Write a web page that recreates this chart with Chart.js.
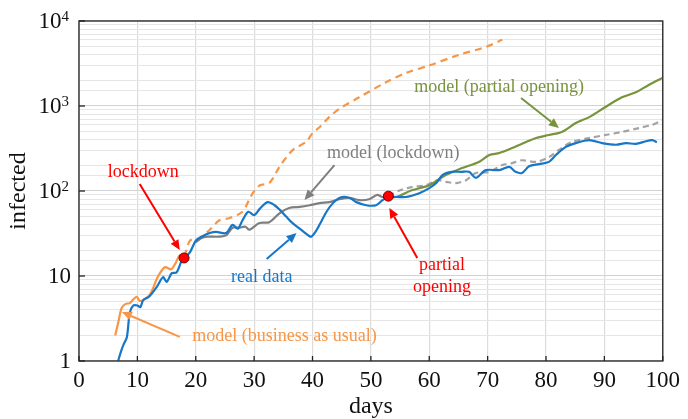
<!DOCTYPE html>
<html><head><meta charset="utf-8">
<script src="https://cdn.jsdelivr.net/npm/chart.js@4/dist/chart.umd.min.js"></script>
<style>html,body{margin:0;padding:0;background:#fff}</style>
</head><body>
<canvas id="c" width="688" height="419"></canvas>
<script>
// ---------- DATA ----------
const realDays   = [6.7,7.2,7.7,8.2,8.7,9.3,10.0,10.5,11.0,12.0,13.3,14.4,15.0,15.9,16.7,17.5,18.0,19.0,20.0,21.0,22.4,23.5,25.2,26.3,27.2,28.0,29.0,30.0,31.0,32.3,33.5,34.4,35.5,36.4,37.8,38.5,39.3,39.8,40.5,41.2,42.4,43.5,44.6,45.8,46.8,47.5,49.2,50.9,52.0,53.0,54.4,56.0,57.0,58.3,60.0,61.2,62.3,63.9,65.5,66.8,68.0,69.7,72.0,73.7,74.8,75.9,77.1,78.8,80.5,81.7,83.4,85.1,87.4,89.6,92.0,93.7,95.4,97.1,98.2,99.0];
const realValues = [1.0,1.3,1.6,1.9,3.7,4.5,4.5,4.3,5.2,5.7,7.4,9.7,8.5,10.8,11,14.6,16.3,19,26,29,32,33,32,40,36,45,57,52,62,74,68,60,50,43,36,33,30,29,33,40,57,72,83,85,80,74,68,68,78,85,85,85,88,94,108,124,155,168,168,168,143,176,176,192,168,163,195,207,220,265,330,366,396,366,350,366,358,385,396,376];

const usualDays   = [6.2,6.8,7.3,8.0,8.7,9.3,9.9,10.4,11.2,12.1,12.8,13.5,14.7,15.8,16.5,17.3,18.0,19.0,20.7,22.4,24.0,25.8,28.0,29.2,29.8,31.0,32.6,34.4,36.6,38.9,40.0,41.2,42.9,44.6,48.0,52.6,56.0,60.0,65.1,69.7,72.5];
const usualValues = [2.0,3.0,4.2,4.7,4.8,5.3,5.7,5.1,5.3,6.0,7.5,9.8,12.7,12,14,17.7,17,26,28,35,45,48,57,80,95,117,124,195,303,378,479,562,744,930,1265,1905,2450,3000,4000,4950,6000];

const lockdownDays   = [20.0,21.0,22.0,23.0,24.0,25.2,26.3,27.5,28.5,29.2,30.9,32.6,34.4,36.0,37.8,39.5,41.2,42.9,44.6,46.3,48.0,49.7,51.1,52.0,53.0,55.0,57.0,59.5,61.4,62.9,64.6,66.3,68.0,70.3,72.5,74.2,75.9,78.3,80.5,82.2,84.4,87.4,90.2,93.0,95.9,98.2,100];
const lockdownValues = [25,28,29,29,29,30,37,37,38,35,42,43,55,63,65,68,72,74,80,83,78,80,90,85,88,102,111,117,134,128,124,134,163,168,202,213,230,220,250,304,377,420,456,495,550,600,680];

const openingDays   = [53.0,54.3,57.0,60.0,62.9,65.6,68.5,70.3,72.0,74.2,76.6,78.3,80.5,82.7,85.1,87.4,90.2,93.0,95.4,97.6,100];
const openingValues = [87,85,102,117,155,186,220,265,280,320,377,420,456,495,630,740,975,1265,1450,1770,2150];

const eventDays   = [18, 53];
const eventValues = [16.3, 87];

const xTickValues = [0,10,20,30,40,50,60,70,80,90,100];
const yTickValues = [1,10,100,1000,10000];
const yTickBase   = ['1','10','10','10','10'];
const yTickExp    = ['','','2','3','4'];

// annotation anchors in data units (day, infected)
const labelTexts  = ['lockdown','model (lockdown)','real data','partial','opening','model (partial opening)','model (business as usual)'];
const labelDays   = [11.0, 53.85, 31.3, 62.2, 62.2, 71.97, 35.2];
const labelValues = [167, 280, 9.73, 13.5, 7.42, 1674, 1.97];
const arrowFromDays   = [10.4, 43.76, 32.14, 57.95, 75.73, 17.26];
const arrowFromValues = [121, 202, 15.8, 16.3, 1242, 1.92];
const arrowToDays     = [17.26, 38.63, 37.26, 53.16, 82.22, 7.35];
const arrowToValues   = [20.2, 78.4, 32, 63, 551, 3.77];

// ---------- STYLE ----------
const BLUE='#1677c9', ORANGE='#f79646', GREEN='#77933c', GRAY='#7f7f7f', DGRAY='#a3a3a3', RED='#ff0000';
const FONT='"Liberation Serif", "Times New Roman", serif';
const labelColors=[RED,GRAY,BLUE,RED,RED,GREEN,ORANGE];
const arrowColors=[RED,GRAY,BLUE,RED,GREEN,ORANGE];

const pts=(xs,ys)=>xs.map((x,i)=>({x:x,y:ys[i]}));

const decorPlugin={
  id:'decor',
  afterDatasetsDraw(chart){
    const {ctx,chartArea:a,scales:{x,y}}=chart;
    ctx.save();
    // frame
    ctx.strokeStyle='#3a3a3a'; ctx.lineWidth=1.5;
    ctx.strokeRect(a.left,a.top,a.right-a.left,a.bottom-a.top);
    // inward ticks
    ctx.strokeStyle='#222'; ctx.lineWidth=1.3;
    xTickValues.forEach(v=>{const px=x.getPixelForValue(v);ctx.beginPath();ctx.moveTo(px,a.bottom);ctx.lineTo(px,a.bottom-5);ctx.stroke();});
    yTickValues.forEach(v=>{const py=y.getPixelForValue(v);ctx.beginPath();ctx.moveTo(a.left,py);ctx.lineTo(a.left+6,py);ctx.stroke();});
    // y tick labels with superscripts
    ctx.fillStyle='#111'; ctx.textBaseline='middle'; ctx.textAlign='right';
    yTickValues.forEach((v,i)=>{
      const py=y.getPixelForValue(v);
      let right=a.left-8;
      if(yTickExp[i]){
        ctx.font='15px '+FONT;
        const w=ctx.measureText(yTickExp[i]).width;
        ctx.fillText(yTickExp[i],a.left-10,py-4);
        right=a.left-10-w;
      }
      ctx.font='23px '+FONT;
      ctx.fillText(yTickBase[i],right,py+1);
    });
    // annotation texts
    ctx.textAlign='center'; ctx.textBaseline='middle'; ctx.font='18px '+FONT;
    labelTexts.forEach((t,i)=>{
      ctx.fillStyle=labelColors[i];
      ctx.fillText(t,x.getPixelForValue(labelDays[i]),y.getPixelForValue(labelValues[i]));
    });
    // arrows
    arrowFromDays.forEach((d,i)=>{
      const x0=x.getPixelForValue(d), y0=y.getPixelForValue(arrowFromValues[i]);
      const x1=x.getPixelForValue(arrowToDays[i]), y1=y.getPixelForValue(arrowToValues[i]);
      const ang=Math.atan2(y1-y0,x1-x0), L=10, W=4.5;
      const bx=x1-L*Math.cos(ang), by=y1-L*Math.sin(ang);
      ctx.strokeStyle=arrowColors[i]; ctx.fillStyle=arrowColors[i]; ctx.lineWidth=2;
      ctx.beginPath(); ctx.moveTo(x0,y0); ctx.lineTo(bx,by); ctx.stroke();
      ctx.beginPath(); ctx.moveTo(x1,y1);
      ctx.lineTo(bx+W*Math.sin(ang),by-W*Math.cos(ang));
      ctx.lineTo(bx-W*Math.sin(ang),by+W*Math.cos(ang));
      ctx.closePath(); ctx.fill();
    });
    ctx.restore();
  }
};

new Chart(document.getElementById('c'),{
  type:'line',
  data:{datasets:[
    {label:'events',type:'scatter',data:pts(eventDays,eventValues),pointRadius:5,pointBackgroundColor:RED,pointBorderColor:'#7a0000',pointBorderWidth:1,showLine:false},
    {label:'real data',data:pts(realDays,realValues),borderColor:BLUE,borderWidth:2.2,pointRadius:0,tension:0.3},
    {label:'model (partial opening)',data:pts(openingDays,openingValues),borderColor:GREEN,borderWidth:2.2,pointRadius:0,tension:0.3},
    {label:'model (lockdown)',data:pts(lockdownDays,lockdownValues),borderColor:GRAY,borderWidth:2.2,pointRadius:0,tension:0.3,
      segment:{borderDash:c=>c.p0.parsed.x>=53?[6,4]:undefined,borderColor:c=>c.p0.parsed.x>=53?DGRAY:GRAY}},
    {label:'model (business as usual)',data:pts(usualDays,usualValues),borderColor:ORANGE,borderWidth:2.2,pointRadius:0,tension:0.3,
      segment:{borderDash:c=>c.p0.parsed.x>=18?[7,5]:undefined}}
  ]},
  options:{
    responsive:false,animation:false,
    layout:{padding:{top:21,right:24,left:0,bottom:0}},
    plugins:{legend:{display:false},tooltip:{enabled:false}},
    scales:{
      x:{type:'linear',min:0,max:100,
        afterBuildTicks:s=>{s.ticks=xTickValues.map(v=>({value:v}));},
        afterFit:s=>{s.height=58;},
        grid:{color:'#dcdcdc',lineWidth:1.2,drawTicks:false},
        border:{display:false},
        ticks:{padding:8,color:'#111',font:{family:FONT,size:23,lineHeight:1},maxRotation:0},
        title:{display:true,text:'days',color:'#111',font:{family:FONT,size:24,lineHeight:1},padding:{top:0,bottom:0}}
      },
      y:{type:'logarithmic',min:1,max:10000,
        afterFit:s=>{s.width=79;},
        grid:{drawTicks:false,lineWidth:1.1,color:c=>{const v=c.tick&&c.tick.value;const l=Math.log10(v);return Math.abs(l-Math.round(l))<1e-6?'#d2d2d2':'#e6e6e6';}},
        border:{display:false},
        ticks:{display:false,autoSkip:false},
        title:{display:true,text:'infected',color:'#111',font:{family:FONT,size:24,lineHeight:1},padding:{top:7,bottom:0}}
      }
    }
  },
  plugins:[decorPlugin]
});
</script>
</body></html>
